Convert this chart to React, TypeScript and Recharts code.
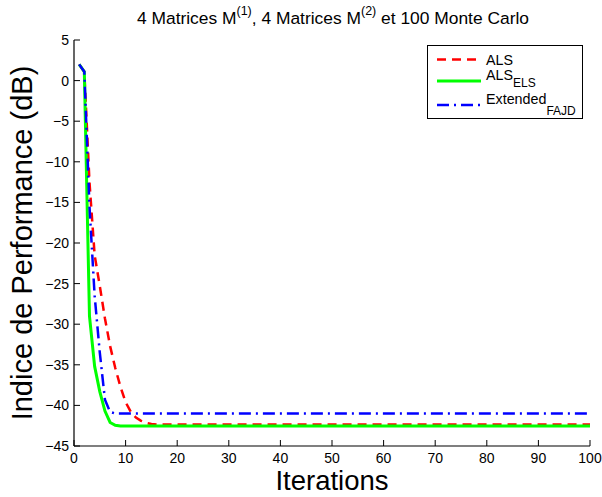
import React from 'react';
import { LineChart, Line, XAxis, YAxis, Legend, Customized } from 'recharts';

const iterations = [1, 2, 3, 4, 5, 6, 7, 8, 9, 10, 11, 12, 13, 14, 15, 16, 18, 20, 100];
const alsValues = [2.0, 1.1, -12.5, -21.5, -25.3, -29.3, -32.7, -35.4, -37.7, -39.6, -40.8, -41.5, -41.9, -42.15, -42.3, -42.35, -42.35, -42.35, -42.35];
const alsElsValues = [2.0, 1.1, -29.0, -35.2, -38.3, -40.7, -42.1, -42.45, -42.55, -42.55, -42.55, -42.55, -42.55, -42.55, -42.55, -42.55, -42.55, -42.55, -42.55];
const extendedValues = [2.0, 1.1, -15.5, -26.5, -33.5, -39.3, -40.8, -41.0, -41.0, -41.0, -41.0, -41.0, -41.0, -41.0, -41.0, -41.0, -41.0, -41.0, -41.0];
const xTicks = [0, 10, 20, 30, 40, 50, 60, 70, 80, 90, 100];
const yTicks = [-45, -40, -35, -30, -25, -20, -15, -10, -5, 0, 5];
const seriesNames = ['ALS', 'ALS', 'Extended'];
const seriesSubs = ['', 'ELS', 'FAJD'];
const titleText = ['4 Matrices M', '(1)', ', 4 Matrices M', '(2)', ' et 100 Monte Carlo'];
const xLabel = 'Iterations';
const yLabel = 'Indice de Performance (dB)';

const data = iterations.map((it, i) => ({
  it,
  als: alsValues[i],
  alsEls: alsElsValues[i],
  ext: extendedValues[i],
}));

const FONT = '"Liberation Sans", Arial, Helvetica, sans-serif';
const fmt = (v: number) => (v < 0 ? '\u2212' + Math.abs(v) : String(v));

const RED = '#ff0000';
const GREEN = '#00ff00';
const BLUE = '#0000ff';
const RED_DASH = '9 6';
const BLUE_DASH = '12 5 2 5';

function BottomTick(props: any) {
  const { x, y, payload } = props;
  return (
    <g>
      <line x1={x} y1={y} x2={x} y2={y - 6} stroke="#000" strokeWidth={1} />
      <text x={x} y={y + 17} textAnchor="middle" fontSize={14} fontFamily={FONT} fill="#000">
        {fmt(payload.value)}
      </text>
    </g>
  );
}

function TopTick(props: any) {
  const { x, y } = props;
  return <line x1={x} y1={y} x2={x} y2={y + 6} stroke="#000" strokeWidth={1} />;
}

function LeftTick(props: any) {
  const { x, y, payload } = props;
  return (
    <g>
      <line x1={x} y1={y} x2={x + 6} y2={y} stroke="#000" strokeWidth={1} />
      <text x={x - 5} y={y + 5} textAnchor="end" fontSize={14} fontFamily={FONT} fill="#000">
        {fmt(payload.value)}
      </text>
    </g>
  );
}

function RightTick(props: any) {
  const { x, y } = props;
  return <line x1={x} y1={y} x2={x - 6} y2={y} stroke="#000" strokeWidth={1} />;
}

function XLabel(props: any) {
  const vb = props.viewBox || { x: 74, y: 446, width: 515, height: 51 };
  return (
    <text x={vb.x + vb.width / 2} y={490} textAnchor="middle" fontSize={27.5} fontFamily={FONT} fill="#000">
      {xLabel}
    </text>
  );
}

function YLabel(props: any) {
  const vb = props.viewBox || { x: 0, y: 40, width: 74, height: 406 };
  const cy = vb.y + vb.height / 2;
  return (
    <text
      x={32}
      y={cy}
      transform={`rotate(-90 32 ${cy})`}
      textAnchor="middle"
      fontSize={29}
      fontFamily={FONT}
      fill="#000"
    >
      {yLabel}
    </text>
  );
}

function Title() {
  return (
    <text x={333} y={24} textAnchor="middle" fontSize={17.4} fontFamily={FONT} fill="#000">
      {titleText[0]}
      <tspan dy={-9} fontSize={12.5}>{titleText[1]}</tspan>
      <tspan dy={9}>{titleText[2]}</tspan>
      <tspan dy={-9} fontSize={12.5}>{titleText[3]}</tspan>
      <tspan dy={9}>{titleText[4]}</tspan>
    </text>
  );
}

function LegendBox() {
  const colors = [RED, GREEN, BLUE];
  const dashes = [RED_DASH, undefined, BLUE_DASH];
  const widths = [2.5, 3, 2.5];
  const lineY = [14.5, 36, 60];
  const textY = [20, 35, 59];
  const subDy = [0, 7, 11];
  return (
    <svg width={157} height={75} style={{ display: 'block' }}>
      <rect x={0.5} y={0.5} width={155} height={73} fill="#fff" stroke="#000" strokeWidth={1} />
      {colors.map((c, i) => (
        <g key={i}>
          <line
            x1={10}
            x2={54}
            y1={lineY[i]}
            y2={lineY[i]}
            stroke={c}
            strokeWidth={widths[i]}
            strokeDasharray={dashes[i]}
          />
          <text x={59} y={textY[i]} fontSize={14.3} fontFamily={FONT} fill="#000">
            {seriesNames[i]}
            {seriesSubs[i] ? (
              <tspan dy={subDy[i]} fontSize={12}>
                {seriesSubs[i]}
              </tspan>
            ) : null}
          </text>
        </g>
      ))}
    </svg>
  );
}

export default function App() {
  return (
    <div style={{ position: 'absolute', left: 0, top: 0, width: 602, height: 497, background: '#fff' }}>
      <LineChart width={602} height={497} data={data} margin={{ top: 40, right: 12, bottom: 0, left: 0 }}>
        <XAxis
          dataKey="it"
          type="number"
          domain={[0, 100]}
          ticks={xTicks}
          interval={0}
          height={51}
          tickLine={false}
          tickSize={0}
          tickMargin={0}
          tick={<BottomTick />}
          axisLine={{ stroke: '#000', strokeWidth: 1.2 }}
          label={<XLabel />}
        />
        <XAxis
          xAxisId="top"
          orientation="top"
          dataKey="it"
          type="number"
          domain={[0, 100]}
          ticks={xTicks}
          interval={0}
          height={0}
          tickLine={false}
          tickSize={0}
          tickMargin={0}
          tick={<TopTick />}
          axisLine={{ stroke: '#000', strokeWidth: 1.2 }}
        />
        <YAxis
          type="number"
          domain={[-45, 5]}
          ticks={yTicks}
          interval={0}
          width={74}
          tickLine={false}
          tickSize={0}
          tickMargin={0}
          tick={<LeftTick />}
          axisLine={{ stroke: '#000', strokeWidth: 1.2 }}
          label={<YLabel />}
        />
        <YAxis
          yAxisId="right"
          orientation="right"
          type="number"
          domain={[-45, 5]}
          ticks={yTicks}
          interval={0}
          width={0}
          tickLine={false}
          tickSize={0}
          tickMargin={0}
          tick={<RightTick />}
          axisLine={{ stroke: '#000', strokeWidth: 1.2 }}
        />
        <Line
          dataKey="als"
          name="ALS"
          stroke={RED}
          strokeWidth={2.5}
          strokeDasharray={RED_DASH}
          dot={false}
          isAnimationActive={false}
          type="linear"
        />
        <Line
          dataKey="alsEls"
          name="ALS_ELS"
          stroke={GREEN}
          strokeWidth={3}
          dot={false}
          isAnimationActive={false}
          type="linear"
        />
        <Line
          dataKey="ext"
          name="Extended_FAJD"
          stroke={BLUE}
          strokeWidth={2.5}
          strokeDasharray={BLUE_DASH}
          dot={false}
          isAnimationActive={false}
          type="linear"
        />
        <Legend
          layout="vertical"
          align="center"
          verticalAlign="middle"
          content={() => <LegendBox />}
          wrapperStyle={{ position: 'absolute', left: 427, top: 45, width: 157, height: 75 }}
        />
        <Customized component={<Title />} />
      </LineChart>
    </div>
  );
}
